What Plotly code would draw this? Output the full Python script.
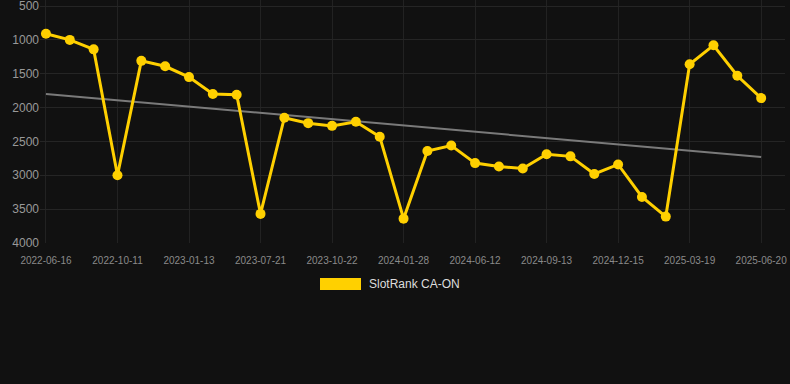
import plotly.graph_objects as go
import numpy as np

dates = [
    "2022-06-16", "2022-07-24", "2022-08-31", "2022-10-11", "2022-11-12", "2022-12-13",
    "2023-01-13", "2023-03-10", "2023-05-16", "2023-07-21", "2023-08-24", "2023-09-23",
    "2023-10-22", "2023-11-26", "2023-12-28", "2024-01-28", "2024-03-15", "2024-04-28",
    "2024-06-12", "2024-07-13", "2024-08-12", "2024-09-13", "2024-10-14", "2024-11-14",
    "2024-12-15", "2025-01-17", "2025-02-17", "2025-03-19", "2025-04-19", "2025-05-20",
    "2025-06-20",
]
ranks = [
    910, 1000, 1140, 3000, 1310, 1390, 1550, 1800, 1810, 3570,
    2150, 2230, 2270, 2210, 2430, 3640, 2640, 2560, 2820, 2870,
    2900, 2690, 2720, 2980, 2840, 3320, 3610, 1360, 1080, 1530,
    1860,
]
series_name = "SlotRank CA-ON"
y_ticks = [500, 1000, 1500, 2000, 2500, 3000, 3500, 4000]

idx = np.arange(len(ranks))
slope, intercept = np.polyfit(idx, ranks, 1)
trend = (slope * idx + intercept).tolist()

tick_idx = list(range(0, len(dates), 3))

fig = go.Figure()
fig.add_trace(go.Scatter(
    x=idx.tolist(), y=trend, mode="lines",
    line=dict(color="#7a7a7a", width=2), showlegend=False, hoverinfo="skip",
))
fig.add_trace(go.Scatter(
    x=idx.tolist(), y=ranks, mode="lines+markers", name=series_name,
    line=dict(color="#FFD000", width=3),
    marker=dict(color="#FFD000", size=10),
    showlegend=False,
))

fig.update_layout(
    width=790, height=384,
    paper_bgcolor="#111111", plot_bgcolor="#111111",
    margin=dict(l=40, r=5, t=0, b=141),
    font=dict(family="Liberation Sans, Arial, sans-serif", color="#999999"),
    xaxis=dict(
        range=[-0.25, 31.0],
        tickvals=tick_idx, ticktext=[dates[i] for i in tick_idx],
        tickfont=dict(size=10, color="#8a8a8a"),
        showgrid=True, gridcolor="#222222", gridwidth=1,
        zeroline=False, showline=False, ticks="",
        ticklabelstandoff=10,
    ),
    yaxis=dict(
        range=[4000, 411], tickvals=y_ticks,
        tickfont=dict(size=12, color="#999999"),
        showgrid=True, gridcolor="#252525", gridwidth=1,
        zeroline=False, showline=False, ticks="",
        ticklabeloverflow="allow", automargin=False,
    ),
    showlegend=False,
)

fig.add_shape(type="rect", xref="paper", yref="paper",
              x0=(320 - 40) / 745, x1=(361 - 40) / 745,
              y0=(243 - 290) / 243, y1=(243 - 278) / 243,
              fillcolor="#FFD000", line=dict(width=0))
fig.add_annotation(xref="paper", yref="paper",
                   x=(367 - 40) / 745, y=(243 - 284) / 243,
                   xanchor="left", yanchor="middle", showarrow=False,
                   text=series_name, font=dict(size=12, color="#dddddd"))

fig.write_html(
    "out.html",
    config={"displayModeBar": False},
    post_script="document.body.style.margin='0';document.body.style.background='#111111';",
)
